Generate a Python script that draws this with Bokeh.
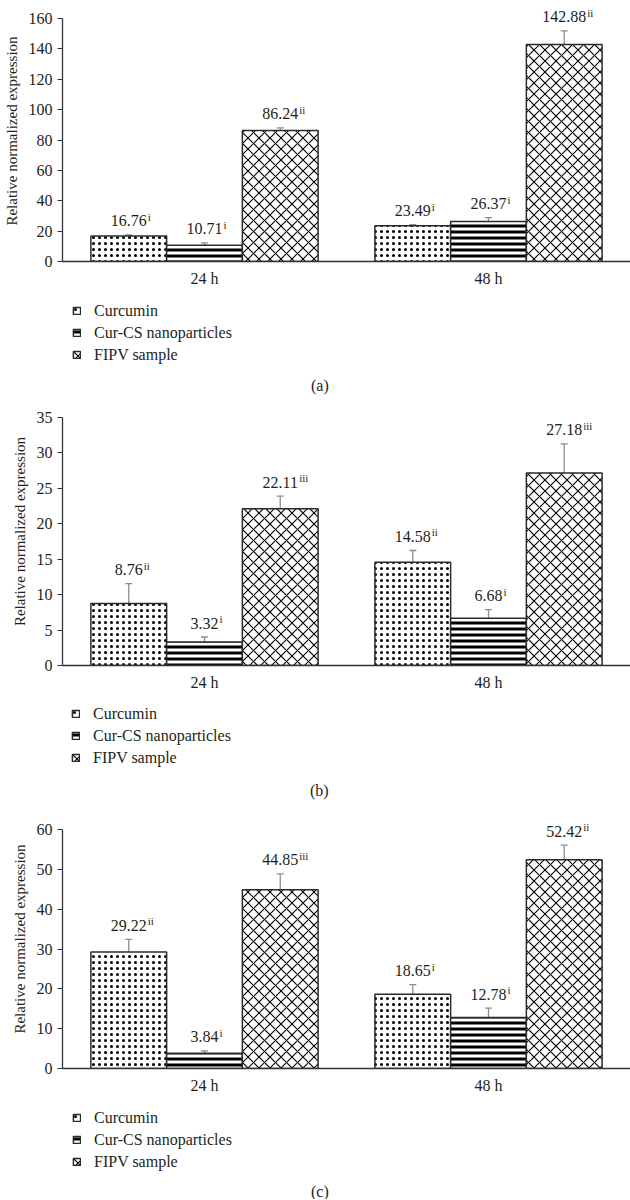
import numpy as np
from bokeh.plotting import figure
from bokeh.models import (FactorRange, Range1d, SingleIntervalTicker, ColumnDataSource,
                          Whisker, TeeHead, Legend, LegendItem)
from bokeh.transform import dodge
from bokeh.layouts import column
from bokeh.core.properties import value
from bokeh.embed import file_html
from bokeh.resources import INLINE

# ---------------- data ----------------
times = ["24 h", "48 h"]
series = ["Curcumin", "Cur-CS nanoparticles", "FIPV sample"]

# panel (a)
a_curcumin = [16.76, 23.49]
a_curcs = [10.71, 26.37]
a_fipv = [86.24, 142.88]
a_err_curcumin = [0.8, 0.7]
a_err_curcs = [1.6, 2.5]
a_err_fipv = [1.7, 9.0]
a_sup_curcumin = ["i", "i"]
a_sup_curcs = ["i", "i"]
a_sup_fipv = ["ii", "ii"]

# panel (b)
b_curcumin = [8.76, 14.58]
b_curcs = [3.32, 6.68]
b_fipv = [22.11, 27.18]
b_err_curcumin = [2.8, 1.65]
b_err_curcs = [0.7, 1.2]
b_err_fipv = [1.8, 4.1]
b_sup_curcumin = ["ii", "ii"]
b_sup_curcs = ["i", "i"]
b_sup_fipv = ["iii", "iii"]

# panel (c)
c_curcumin = [29.22, 18.65]
c_curcs = [3.84, 12.78]
c_fipv = [44.85, 52.42]
c_err_curcumin = [3.2, 2.4]
c_err_curcs = [0.6, 2.4]
c_err_fipv = [4.0, 3.65]
c_sup_curcumin = ["ii", "i"]
c_sup_curcs = ["i", "i"]
c_sup_fipv = ["iii", "ii"]

y_label = "Relative normalized expression"
captions = ["(a)", "(b)", "(c)"]

# ---------------- style ----------------
FONT_NAME = "Liberation Serif"
FONT = value(FONT_NAME)
TXT = "#231f20"
BAR_W = 0.8 / 3
OFFSETS = [-BAR_W, 0.0, BAR_W]
W = 630
HATCH = [
    dict(hatch_pattern=".", hatch_scale=6, hatch_weight=0.9),
    dict(hatch_pattern="-", hatch_scale=6, hatch_weight=3),
    dict(hatch_pattern="x", hatch_scale=11, hatch_weight=1.1),
]
BAR_STYLE = dict(fill_color="white", line_color="#2b2b2b", line_width=1.5, hatch_color="black")


def text_width(s):
    return sum(8 if ch.isdigit() else 4 for ch in s)


def make_chart(vals, errs, sups, ymax, step, frame_h, pad_px, mbl):
    # pad_px: room above the top tick so labels over tall bars are not clipped
    y_end = ymax * frame_h / (frame_h - pad_px)
    p = figure(x_range=FactorRange(*times), y_range=Range1d(0, y_end),
               width=W, height=frame_h + 30,
               min_border_top=0, min_border_bottom=30,
               min_border_left=mbl, min_border_right=0,
               output_backend="svg", toolbar_location=None)
    p.outline_line_color = None
    p.xgrid.grid_line_color = None
    p.ygrid.grid_line_color = None

    for k in range(3):
        labs = ["%.2f" % v for v in vals[k]]
        src = ColumnDataSource(dict(
            time=times, val=vals[k],
            upper=[v + e for v, e in zip(vals[k], errs[k])],
            lower=[v - e for v, e in zip(vals[k], errs[k])],
            lab=labs, sup=sups[k],
            supx=[text_width(s) / 2 + 1 for s in labs],
        ))
        xx = dodge("time", OFFSETS[k], range=p.x_range)
        p.vbar(x=xx, top="val", width=BAR_W, source=src, **BAR_STYLE, **HATCH[k])
        wk = Whisker(base=xx, upper="upper", lower="lower", source=src,
                     line_color="#8c8c8c", line_width=1.3,
                     upper_head=TeeHead(size=7, line_color="#8c8c8c", line_width=1.3),
                     lower_head=TeeHead(size=7, line_color="#8c8c8c", line_width=1.3))
        p.add_layout(wk)
        p.text(x=xx, y="upper", text="lab", source=src, y_offset=-14,
               text_align="center", text_baseline="alphabetic",
               text_font=FONT, text_font_size="16px", text_color=TXT)
        p.text(x=xx, y="upper", text="sup", source=src, y_offset=-18, x_offset="supx",
               text_align="left", text_baseline="alphabetic",
               text_font=FONT, text_font_size="11px", text_color=TXT)

    p.xaxis.axis_line_color = "#333333"
    p.xaxis.axis_line_width = 1.3
    p.xaxis.major_tick_line_color = None
    p.xaxis.major_tick_out = 0
    p.xaxis.major_tick_in = 0
    p.xaxis.minor_tick_line_color = None
    p.xaxis.major_label_standoff = 8
    p.xaxis.major_label_text_font = FONT_NAME
    p.xaxis.major_label_text_font_size = "16px"
    p.xaxis.major_label_text_color = TXT

    p.yaxis.ticker = SingleIntervalTicker(interval=step, num_minor_ticks=0)
    p.yaxis.bounds = (0, ymax)
    p.yaxis.axis_line_color = "#333333"
    p.yaxis.axis_line_width = 1.3
    p.yaxis.major_tick_line_color = "#333333"
    p.yaxis.major_tick_out = 5
    p.yaxis.major_tick_in = 0
    p.yaxis.minor_tick_line_color = None
    p.yaxis.major_label_standoff = 5
    p.yaxis.major_label_text_font = FONT_NAME
    p.yaxis.major_label_text_font_size = "16px"
    p.yaxis.major_label_text_color = TXT
    p.yaxis.axis_label = y_label
    p.yaxis.axis_label_standoff = 6
    p.yaxis.axis_label_text_font = FONT_NAME
    p.yaxis.axis_label_text_font_size = "15px"
    p.yaxis.axis_label_text_font_style = "normal"
    p.yaxis.axis_label_text_color = TXT
    return p


def make_key(caption, height, caption_from_top, margin):
    mbl = 64 - margin
    fw = W - mbl
    q = figure(x_range=Range1d(0, fw), y_range=Range1d(0, height),
               width=W, height=height, min_border_left=mbl, min_border_right=0,
               min_border_top=0, min_border_bottom=0,
               x_axis_location=None, y_axis_location=None,
               output_backend="svg", toolbar_location=None)
    q.outline_line_color = None
    q.grid.visible = False
    rs = []
    for k in range(3):
        rs.append(q.vbar(x=[0], top=np.array([np.nan]), width=1, **BAR_STYLE, **HATCH[k]))
    legend = Legend(items=[LegendItem(label=s, renderers=[r]) for s, r in zip(series, rs)],
                    orientation="vertical", location="top_left", margin=margin, padding=0,
                    border_line_color=None, background_fill_alpha=0,
                    glyph_width=9, glyph_height=9, label_standoff=13,
                    label_height=19, spacing=3,
                    label_text_font=FONT_NAME, label_text_font_size="16px",
                    label_text_color=TXT)
    q.add_layout(legend)
    q.text(x=[315 - mbl], y=[height - caption_from_top], text=[caption],
           text_align="center", text_baseline="middle",
           text_font=FONT, text_font_size="16px", text_color=TXT)
    return q


pa = make_chart([a_curcumin, a_curcs, a_fipv], [a_err_curcumin, a_err_curcs, a_err_fipv],
                [a_sup_curcumin, a_sup_curcs, a_sup_fipv], 160, 20, 261, 18, 62)
ka = make_key(captions[0], 106, 94, 10)
pb = make_chart([b_curcumin, b_curcs, b_fipv], [b_err_curcumin, b_err_curcs, b_err_fipv],
                [b_sup_curcumin, b_sup_curcs, b_sup_fipv], 35, 5, 268, 20, 52)
kb = make_key(captions[1], 114, 95, 9)
pc = make_chart([c_curcumin, c_curcs, c_fipv], [c_err_curcumin, c_err_curcs, c_err_fipv],
                [c_sup_curcumin, c_sup_curcs, c_sup_fipv], 60, 10, 259, 20, 57)
kc = make_key(captions[2], 101, 93, 10)

layout = column(pa, ka, pb, kb, pc, kc, spacing=0)
open("out.html", "w").write(file_html(layout, INLINE))
